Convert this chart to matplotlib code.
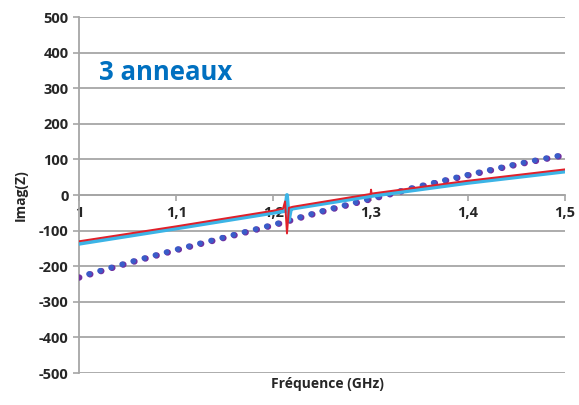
import matplotlib.pyplot as plt

plt.rcParams["axes.unicode_minus"] = False

# simulated (solid) curves
freq_line = [1.0, 1.1, 1.2, 1.21, 1.212, 1.214, 1.216, 1.22, 1.3, 1.3005, 1.301, 1.4, 1.5]
red_vals = [-130, -88, -44, -38, -18, -108, -36, -33, 3, 15, 4, 40, 72]
freq_cyan = [1.0, 1.1, 1.2, 1.212, 1.214, 1.216, 1.218, 1.22, 1.3, 1.4, 1.5]
cyan_vals = [-137, -94, -50, -45, 0, -70, -40, -38, -3, 34, 66]

# measured (dotted) curves
freq_dots = [1.0, 1.05, 1.1, 1.15, 1.2, 1.25, 1.3, 1.35, 1.4, 1.45, 1.5]
purple_vals = [-232, -192, -155, -120, -85, -47, -12, 23, 55, 85, 112]
blue_vals = [-230, -190, -153, -118, -83, -45, -10, 25, 57, 87, 114]

yticks = [-500, -400, -300, -200, -100, 0, 100, 200, 300, 400, 500]
xticks = [1.0, 1.1, 1.2, 1.3, 1.4, 1.5]
xlabels = ["1", "1,1", "1,2", "1,3", "1,4", "1,5"]

fig = plt.figure(figsize=(5.79, 4.05), dpi=100)
ax = fig.add_axes([0.1364, 0.079, 0.8394, 0.879])

for y in yticks:
    ax.axhline(y, color="#a6a6a6", lw=1.3, zorder=0)

ax.plot(freq_dots, purple_vals, color="#7030a0", lw=4.6, linestyle=(0, (0.05, 1.75)),
        dash_capstyle="round", zorder=3)
ax.plot(freq_dots, blue_vals, color="#3a5cc8", lw=4.0, linestyle=(0.2, (0.05, 2.02)),
        dash_capstyle="round", zorder=3)
ax.plot(freq_cyan, cyan_vals, color="#3cb4e6", lw=2.8, zorder=4)
ax.plot(freq_line, red_vals, color="#e0202a", lw=1.4, zorder=5)

ax.set_xlim(1.0, 1.5)
ax.set_ylim(-500, 500)
ax.set_yticks(yticks)
ax.set_xticks(xticks)
ax.set_xticklabels(xlabels)

ax.spines["top"].set_visible(False)
ax.spines["right"].set_visible(False)
ax.spines["left"].set_color("#a6a6a6")
ax.spines["left"].set_linewidth(1.3)
ax.spines["bottom"].set_position(("data", 0))
ax.spines["bottom"].set_color("#a6a6a6")
ax.spines["bottom"].set_linewidth(1.3)
ax.tick_params(axis="both", colors="#a6a6a6", length=4, width=1.2, labelcolor="#262626")
ax.tick_params(axis="x", pad=4)
for lab in ax.get_xticklabels() + ax.get_yticklabels():
    lab.set_fontweight("bold")
    lab.set_fontsize(10.5)
    lab.set_family("Open Sans")

ax.set_ylabel("Imag(Z)", fontsize=10, fontweight="bold", family="Open Sans", color="#262626", labelpad=8)
fig.text(0.565, 0.052, "Fréquence (GHz)", ha="center", va="center", fontsize=10,
         fontweight="bold", family="Open Sans", color="#262626")
ax.text(1.021, 345, "3 anneaux", fontsize=18.5, fontweight="bold", family="Open Sans",
        color="#0070c0", va="center")

fig.savefig("out.png", dpi=100)
